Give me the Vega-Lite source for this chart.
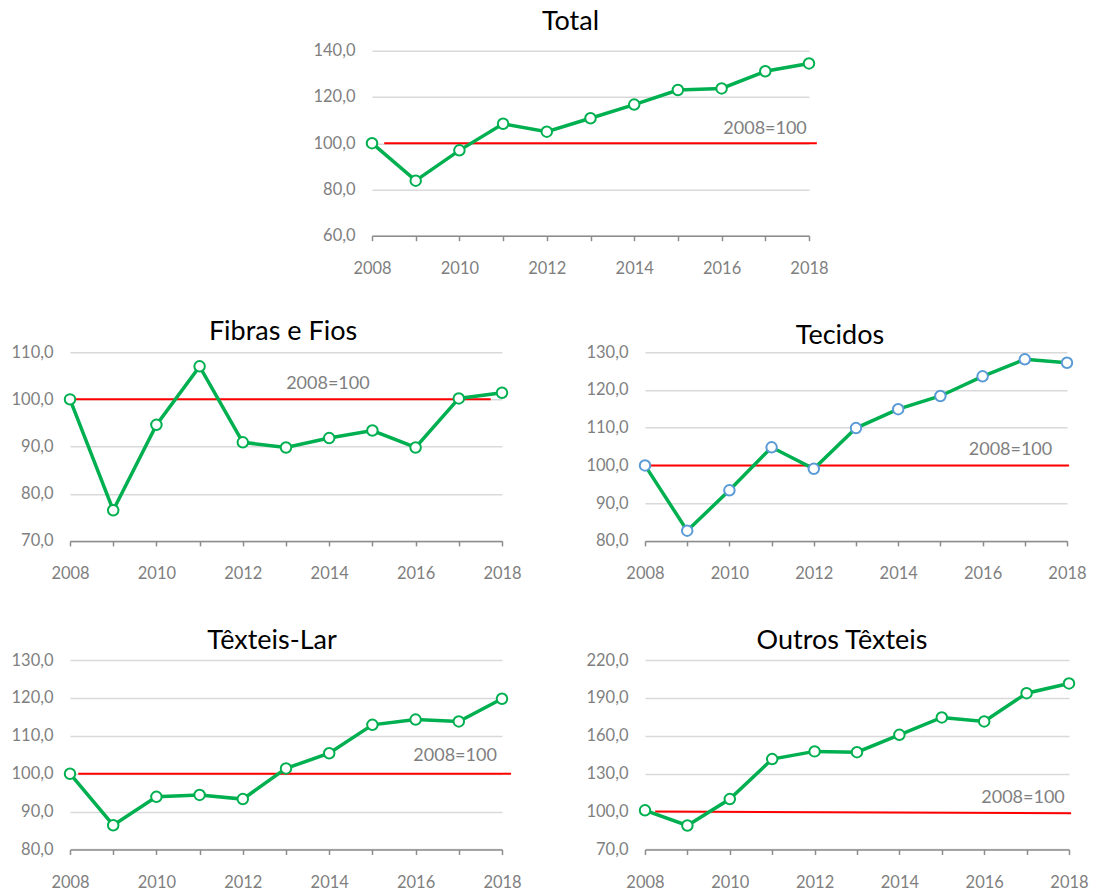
{
  "$schema": "https://vega.github.io/schema/vega-lite/v6.json",
  "padding": {"left": 8, "top": 7.7, "right": 0, "bottom": 0},
  "background": "white",
  "datasets": {
    "d": [
      {"series": "Total", "year": 2008, "value": 100.0},
      {"series": "Total", "year": 2009, "value": 83.8},
      {"series": "Total", "year": 2010, "value": 96.9},
      {"series": "Total", "year": 2011, "value": 108.4},
      {"series": "Total", "year": 2012, "value": 105.0},
      {"series": "Total", "year": 2013, "value": 110.8},
      {"series": "Total", "year": 2014, "value": 116.7},
      {"series": "Total", "year": 2015, "value": 123.0},
      {"series": "Total", "year": 2016, "value": 123.7},
      {"series": "Total", "year": 2017, "value": 131.1},
      {"series": "Total", "year": 2018, "value": 134.5},
      {"series": "Fibras e Fios", "year": 2008, "value": 100.0},
      {"series": "Fibras e Fios", "year": 2009, "value": 76.5},
      {"series": "Fibras e Fios", "year": 2010, "value": 94.6},
      {"series": "Fibras e Fios", "year": 2011, "value": 107.0},
      {"series": "Fibras e Fios", "year": 2012, "value": 90.9},
      {"series": "Fibras e Fios", "year": 2013, "value": 89.8},
      {"series": "Fibras e Fios", "year": 2014, "value": 91.8},
      {"series": "Fibras e Fios", "year": 2015, "value": 93.4},
      {"series": "Fibras e Fios", "year": 2016, "value": 89.8},
      {"series": "Fibras e Fios", "year": 2017, "value": 100.2},
      {"series": "Fibras e Fios", "year": 2018, "value": 101.4},
      {"series": "Tecidos", "year": 2008, "value": 100.0},
      {"series": "Tecidos", "year": 2009, "value": 82.7},
      {"series": "Tecidos", "year": 2010, "value": 93.4},
      {"series": "Tecidos", "year": 2011, "value": 104.8},
      {"series": "Tecidos", "year": 2012, "value": 99.1},
      {"series": "Tecidos", "year": 2013, "value": 109.9},
      {"series": "Tecidos", "year": 2014, "value": 114.9},
      {"series": "Tecidos", "year": 2015, "value": 118.4},
      {"series": "Tecidos", "year": 2016, "value": 123.6},
      {"series": "Tecidos", "year": 2017, "value": 128.1},
      {"series": "Tecidos", "year": 2018, "value": 127.2},
      {"series": "Têxteis-Lar", "year": 2008, "value": 100.0},
      {"series": "Têxteis-Lar", "year": 2009, "value": 86.4},
      {"series": "Têxteis-Lar", "year": 2010, "value": 93.9},
      {"series": "Têxteis-Lar", "year": 2011, "value": 94.4},
      {"series": "Têxteis-Lar", "year": 2012, "value": 93.3},
      {"series": "Têxteis-Lar", "year": 2013, "value": 101.4},
      {"series": "Têxteis-Lar", "year": 2014, "value": 105.4},
      {"series": "Têxteis-Lar", "year": 2015, "value": 112.9},
      {"series": "Têxteis-Lar", "year": 2016, "value": 114.3},
      {"series": "Têxteis-Lar", "year": 2017, "value": 113.8},
      {"series": "Têxteis-Lar", "year": 2018, "value": 119.8},
      {"series": "Outros Têxteis", "year": 2008, "value": 101.0},
      {"series": "Outros Têxteis", "year": 2009, "value": 89.0},
      {"series": "Outros Têxteis", "year": 2010, "value": 109.9},
      {"series": "Outros Têxteis", "year": 2011, "value": 141.6},
      {"series": "Outros Têxteis", "year": 2012, "value": 147.7},
      {"series": "Outros Têxteis", "year": 2013, "value": 147.1},
      {"series": "Outros Têxteis", "year": 2014, "value": 160.8},
      {"series": "Outros Têxteis", "year": 2015, "value": 174.6},
      {"series": "Outros Têxteis", "year": 2016, "value": 171.4},
      {"series": "Outros Têxteis", "year": 2017, "value": 193.8},
      {"series": "Outros Têxteis", "year": 2018, "value": 201.5}
    ]
  },
  "spacing": 39.5,
  "vconcat": [
    {
      "spacing": 20,
      "hconcat": [
        {"width": 222, "height": 1, "data": {"values": []}, "mark": {"type": "point", "opacity": 0}, "encoding": {}},
        {
          "width": 437, "height": 185,
          "title": {"text": "Total", "offset": 6.7, "dx": -20},
          "layer": [
            {"data": {"values": [{}]}, "mark": {"type": "rule", "color": "#FF0000", "strokeWidth": 2},
             "encoding": {"x": {"datum": 2008.28, "type": "quantitative"}, "x2": {"datum": 2018.18}, "y": {"datum": 100, "type": "quantitative"}}},
            {"data": {"name": "d"}, "transform": [{"filter": "datum.series === 'Total'"}],
             "mark": {"type": "line", "color": "#00B050", "strokeWidth": 3.5},
             "encoding": {
               "x": {"field": "year", "type": "quantitative", "scale": {"domain": [2008, 2018], "nice": false, "zero": false},
                     "axis": {"values": [2008, 2009, 2010, 2011, 2012, 2013, 2014, 2015, 2016, 2017, 2018], "tickCount": 30, "labelExpr": "datum.value % 2 === 0 ? datum.label : ''", "format": "d", "title": null, "grid": false, "labelFlush": false, "labelOverlap": false}},
               "y": {"field": "value", "type": "quantitative", "scale": {"domain": [60, 140], "nice": false, "zero": false},
                     "axis": {"values": [60, 80, 100, 120, 140], "tickCount": 30, "title": null, "minExtent": 60, "maxExtent": 60}}
             }},
            {"data": {"name": "d"}, "transform": [{"filter": "datum.series === 'Total'"}],
             "mark": {"type": "point", "shape": "circle", "filled": true, "fill": "white", "stroke": "#00B050", "strokeWidth": 2, "size": 110, "opacity": 1},
             "encoding": {"x": {"field": "year", "type": "quantitative"}, "y": {"field": "value", "type": "quantitative"}}},
            {"data": {"values": [{}]}, "mark": {"type": "text", "text": "2008=100", "align": "right", "baseline": "alphabetic", "fontSize": 18, "color": "#7f7f7f"},
             "encoding": {"x": {"datum": 2017.95, "type": "quantitative"}, "y": {"datum": 104.1, "type": "quantitative"}}}
          ]
        }
      ]
    },
    {
      "spacing": 43.9,
      "vconcat": [
        {
          "spacing": 62,
          "hconcat": [
            {
              "width": 432, "height": 188.7,
              "title": {"text": "Fibras e Fios", "offset": -1.7, "dx": -3},
              "layer": [
                {"data": {"values": [{}]}, "mark": {"type": "rule", "color": "#FF0000", "strokeWidth": 2},
                 "encoding": {"x": {"datum": 2008.12, "type": "quantitative"}, "x2": {"datum": 2017.74}, "y": {"datum": 100, "type": "quantitative"}}},
                {"data": {"name": "d"}, "transform": [{"filter": "datum.series === 'Fibras e Fios'"}],
                 "mark": {"type": "line", "color": "#00B050", "strokeWidth": 3.5},
                 "encoding": {
                   "x": {"field": "year", "type": "quantitative", "scale": {"domain": [2008, 2018], "nice": false, "zero": false},
                         "axis": {"values": [2008, 2009, 2010, 2011, 2012, 2013, 2014, 2015, 2016, 2017, 2018], "tickCount": 30, "labelExpr": "datum.value % 2 === 0 ? datum.label : ''", "format": "d", "title": null, "grid": false, "labelFlush": false, "labelOverlap": false}},
                   "y": {"field": "value", "type": "quantitative", "scale": {"domain": [70, 110], "nice": false, "zero": false},
                         "axis": {"values": [70, 80, 90, 100, 110], "tickCount": 30, "title": null, "minExtent": 62, "maxExtent": 62}}
                 }},
                {"data": {"name": "d"}, "transform": [{"filter": "datum.series === 'Fibras e Fios'"}],
                 "mark": {"type": "point", "shape": "circle", "filled": true, "fill": "white", "stroke": "#00B050", "strokeWidth": 2, "size": 110, "opacity": 1},
                 "encoding": {"x": {"field": "year", "type": "quantitative"}, "y": {"field": "value", "type": "quantitative"}}},
                {"data": {"values": [{}]}, "mark": {"type": "text", "text": "2008=100", "align": "center", "baseline": "alphabetic", "fontSize": 18, "color": "#7f7f7f"},
                 "encoding": {"x": {"datum": 2013.97, "type": "quantitative"}, "y": {"datum": 102.3, "type": "quantitative"}}}
              ]
            },
            {
              "width": 422, "height": 188.7,
              "title": {"text": "Tecidos", "offset": -5.7, "dx": -16},
              "layer": [
                {"data": {"values": [{}]}, "mark": {"type": "rule", "color": "#FF0000", "strokeWidth": 2},
                 "encoding": {"x": {"datum": 2008.06, "type": "quantitative"}, "x2": {"datum": 2018.05}, "y": {"datum": 100, "type": "quantitative"}}},
                {"data": {"name": "d"}, "transform": [{"filter": "datum.series === 'Tecidos'"}],
                 "mark": {"type": "line", "color": "#00B050", "strokeWidth": 3.5},
                 "encoding": {
                   "x": {"field": "year", "type": "quantitative", "scale": {"domain": [2008, 2018], "nice": false, "zero": false},
                         "axis": {"values": [2008, 2009, 2010, 2011, 2012, 2013, 2014, 2015, 2016, 2017, 2018], "tickCount": 30, "labelExpr": "datum.value % 2 === 0 ? datum.label : ''", "format": "d", "title": null, "grid": false, "labelFlush": false, "labelOverlap": false}},
                   "y": {"field": "value", "type": "quantitative", "scale": {"domain": [80, 130], "nice": false, "zero": false},
                         "axis": {"values": [80, 90, 100, 110, 120, 130], "tickCount": 30, "title": null, "minExtent": 61, "maxExtent": 61}}
                 }},
                {"data": {"name": "d"}, "transform": [{"filter": "datum.series === 'Tecidos'"}],
                 "mark": {"type": "point", "shape": "circle", "filled": true, "fill": "white", "stroke": "#5B9BD5", "strokeWidth": 2, "size": 110, "opacity": 1},
                 "encoding": {"x": {"field": "year", "type": "quantitative"}, "y": {"field": "value", "type": "quantitative"}}},
                {"data": {"values": [{}]}, "mark": {"type": "text", "text": "2008=100", "align": "right", "baseline": "alphabetic", "fontSize": 18, "color": "#7f7f7f"},
                 "encoding": {"x": {"datum": 2017.65, "type": "quantitative"}, "y": {"datum": 102.8, "type": "quantitative"}}}
              ]
            }
          ]
        },
        {
          "spacing": 62,
          "hconcat": [
            {
              "width": 432, "height": 189.4,
              "title": {"text": "Têxteis-Lar", "offset": -3, "dx": -14},
              "layer": [
                {"data": {"values": [{}]}, "mark": {"type": "rule", "color": "#FF0000", "strokeWidth": 2},
                 "encoding": {"x": {"datum": 2008.19, "type": "quantitative"}, "x2": {"datum": 2018.21}, "y": {"datum": 100, "type": "quantitative"}}},
                {"data": {"name": "d"}, "transform": [{"filter": "datum.series === 'Têxteis-Lar'"}],
                 "mark": {"type": "line", "color": "#00B050", "strokeWidth": 3.5},
                 "encoding": {
                   "x": {"field": "year", "type": "quantitative", "scale": {"domain": [2008, 2018], "nice": false, "zero": false},
                         "axis": {"values": [2008, 2009, 2010, 2011, 2012, 2013, 2014, 2015, 2016, 2017, 2018], "tickCount": 30, "labelExpr": "datum.value % 2 === 0 ? datum.label : ''", "format": "d", "title": null, "grid": false, "labelFlush": false, "labelOverlap": false}},
                   "y": {"field": "value", "type": "quantitative", "scale": {"domain": [80, 130], "nice": false, "zero": false},
                         "axis": {"values": [80, 90, 100, 110, 120, 130], "tickCount": 30, "title": null, "minExtent": 62, "maxExtent": 62}}
                 }},
                {"data": {"name": "d"}, "transform": [{"filter": "datum.series === 'Têxteis-Lar'"}],
                 "mark": {"type": "point", "shape": "circle", "filled": true, "fill": "white", "stroke": "#00B050", "strokeWidth": 2, "size": 110, "opacity": 1},
                 "encoding": {"x": {"field": "year", "type": "quantitative"}, "y": {"field": "value", "type": "quantitative"}}},
                {"data": {"values": [{}]}, "mark": {"type": "text", "text": "2008=100", "align": "right", "baseline": "alphabetic", "fontSize": 18, "color": "#7f7f7f"},
                 "encoding": {"x": {"datum": 2017.88, "type": "quantitative"}, "y": {"datum": 103.4, "type": "quantitative"}}}
              ]
            },
            {
              "width": 424, "height": 189.4,
              "title": {"text": "Outros Têxteis", "offset": -3, "dx": -15},
              "layer": [
                {"data": {"values": [{}]}, "mark": {"type": "rule", "color": "#FF0000", "strokeWidth": 2},
                 "encoding": {"x": {"datum": 2008.24, "type": "quantitative"}, "x2": {"datum": 2018.05}, "y": {"datum": 100, "type": "quantitative"}, "y2": {"datum": 98.7}}},
                {"data": {"name": "d"}, "transform": [{"filter": "datum.series === 'Outros Têxteis'"}],
                 "mark": {"type": "line", "color": "#00B050", "strokeWidth": 3.5},
                 "encoding": {
                   "x": {"field": "year", "type": "quantitative", "scale": {"domain": [2008, 2018], "nice": false, "zero": false},
                         "axis": {"values": [2008, 2009, 2010, 2011, 2012, 2013, 2014, 2015, 2016, 2017, 2018], "tickCount": 30, "labelExpr": "datum.value % 2 === 0 ? datum.label : ''", "format": "d", "title": null, "grid": false, "labelFlush": false, "labelOverlap": false}},
                   "y": {"field": "value", "type": "quantitative", "scale": {"domain": [70, 220], "nice": false, "zero": false},
                         "axis": {"values": [70, 100, 130, 160, 190, 220], "tickCount": 30, "title": null, "minExtent": 61, "maxExtent": 61}}
                 }},
                {"data": {"name": "d"}, "transform": [{"filter": "datum.series === 'Outros Têxteis'"}],
                 "mark": {"type": "point", "shape": "circle", "filled": true, "fill": "white", "stroke": "#00B050", "strokeWidth": 2, "size": 110, "opacity": 1},
                 "encoding": {"x": {"field": "year", "type": "quantitative"}, "y": {"field": "value", "type": "quantitative"}}},
                {"data": {"values": [{}]}, "mark": {"type": "text", "text": "2008=100", "align": "right", "baseline": "alphabetic", "fontSize": 18, "color": "#7f7f7f"},
                 "encoding": {"x": {"datum": 2017.9, "type": "quantitative"}, "y": {"datum": 107.2, "type": "quantitative"}}}
              ]
            }
          ]
        }
      ]
    }
  ],
  "config": {
    "font": "Lato",
    "view": {"stroke": null},
    "title": {"font": "Lato", "fontSize": 27, "fontWeight": "normal", "color": "#000000", "baseline": "alphabetic", "anchor": "middle"},
    "axis": {"labelFont": "Lato", "labelFontSize": 16.5, "labelColor": "#7f7f7f"},
    "axisX": {"domainColor": "#8c8c8c", "domainWidth": 1.5, "tickColor": "#8c8c8c", "tickWidth": 1.5, "tickSize": 5, "labelPadding": 20, "labelAngle": 0},
    "axisY": {"domain": false, "ticks": false, "grid": true, "gridColor": "#d9d9d9", "gridWidth": 1.5, "labelPadding": 17, "labelOverlap": false, "labelExpr": "replace(format(datum.value, '.1f'), '.', ',')"}
  }
}
